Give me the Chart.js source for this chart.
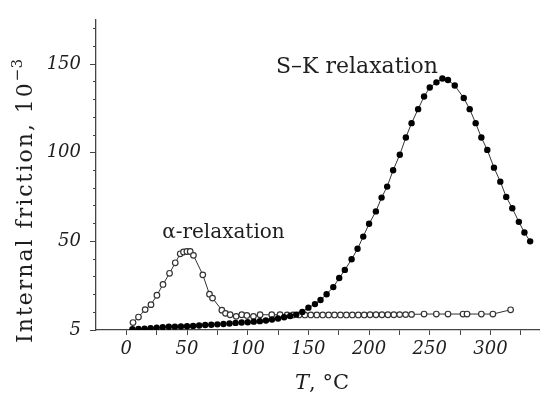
<!DOCTYPE html>
<html>
<head>
<meta charset="utf-8">
<script src="https://cdn.jsdelivr.net/npm/chart.js@4.4.0/dist/chart.umd.min.js"></script>
<style>
  html, body { margin: 0; padding: 0; background: #fff; }
  #wrap { width: 547px; height: 394px; position: relative; }
</style>
</head>
<body>
<div id="wrap"><canvas id="frictionChart"></canvas></div>
<script>
// S-K relaxation (filled dots): temperature, internal friction (10^-3)
const skTemp = [5, 10, 15, 20, 25, 30, 35, 40, 45, 50, 55, 60, 65, 70, 75, 80, 85, 90, 95, 100,
  105, 110, 115, 120, 125, 130, 135, 140, 145, 150, 155.4, 160, 165, 170.5, 175.4, 180, 185.6,
  190.5, 195.2, 200, 205.6, 210.3, 214.9, 219.8, 225.3, 230.3, 235, 240.4, 245.3, 250, 255.5,
  260.4, 265, 270.6, 278, 282.9, 287.8, 292.5, 297.4, 302.9, 308.1, 313, 318, 323.4, 328, 332.7];
const skValues = [0.4, 0.6, 0.8, 1.0, 1.3, 1.6, 1.8, 1.9, 2.0, 2.1, 2.3, 2.5, 2.8, 3.0, 3.2, 3.4, 3.7, 4.0, 4.2, 4.4,
  4.7, 5.0, 5.4, 5.9, 6.5, 7.2, 7.9, 8.7, 10.2, 12.6, 14.6, 16.9, 20.2, 24.2, 29.3, 33.9, 39.9,
  45.8, 52.7, 59.9, 66.9, 74.7, 80.9, 90.1, 98.9, 108.6, 116.7, 124.6, 131.7, 136.8, 139.7,
  141.9, 141.0, 137.9, 130.9, 124.6, 116.7, 108.6, 101.6, 91.6, 83.7, 75.1, 68.7, 61, 55, 50];

// alpha-relaxation (open circles)
const alphaTemp = [5.5, 10, 15.5, 20.3, 25.2, 30.2, 35.6, 40.3, 44.4, 47.1, 49.9, 52.6, 55.3, 63, 68.5, 71,
  78.7, 81.7, 85.5, 90.5, 95.1, 99.3, 104.7, 110.2, 119.8, 126.6, 132.5, 137.4, 142.3, 147.1, 152,
  156.9, 161.8, 166.7, 171.5, 176.4, 181.3, 186.2, 191.1, 196, 200.8, 205.7, 210.6, 215.5, 220.4,
  225.2, 230.1, 235, 245.3, 255.4, 265, 277.4, 280.7, 292.5, 302, 316.6];
const alphaValues = [4.2, 7.3, 11.5, 14.3, 19.6, 25.7, 32, 37.9, 43, 44, 44.3, 44.3, 42.1, 31.1, 20.2, 18,
  11.2, 9.4, 8.6, 7.7, 8.6, 8.2, 7.7, 8.6, 8.6, 8.6, 8.5, 8.5, 8.5, 8.5, 8.5,
  8.5, 8.5, 8.5, 8.5, 8.5, 8.5, 8.5, 8.5, 8.5, 8.6, 8.6, 8.6, 8.6, 8.6,
  8.7, 8.7, 8.8, 9, 9, 9, 9, 9, 9, 9, 11.4];

// ticks
const xTickValues = [0, 25, 50, 75, 100, 125, 150, 175, 200, 225, 250, 275, 300, 325];
const xTickLabels = {0: '0', 50: '50', 100: '100', 150: '150', 200: '200', 250: '250', 300: '300'};
const yTickValues = [0, 10, 20, 30, 40, 50, 60, 70, 80, 90, 100, 110, 120, 130, 140, 150, 160, 170];
const yTickLabels = {0: '5', 50: '50', 100: '100', 150: '150'};

const axisColor = '#444';
const textColor = '#1e1e1e';
const serif = '"DejaVu Serif", "Liberation Serif", serif';

function toPoints(xs, ys) {
  return xs.map((x, i) => ({x: x, y: ys[i]}));
}

// labels drawn on top: peak names and axis titles
const textPlugin = {
  id: 'textLabels',
  afterDraw(chart) {
    const {ctx, scales: {x, y}} = chart;
    ctx.save();
    ctx.fillStyle = textColor;
    ctx.textBaseline = 'middle';
    ctx.textAlign = 'center';

    ctx.font = '22px ' + serif;
    ctx.fillText('S–K relaxation', x.getPixelForValue(190), y.getPixelForValue(148));
    ctx.font = '20px ' + serif;
    ctx.fillText('α-relaxation', x.getPixelForValue(80), y.getPixelForValue(55));

    // x title: italic T
    ctx.textAlign = 'left';
    const fi = 'italic 21px ' + serif, fn = '21px ' + serif;
    ctx.font = fi;
    const wT = ctx.measureText('T').width;
    ctx.font = fn;
    const wRest = ctx.measureText(', °C').width;
    let sx = 322 - (wT + wRest) / 2;
    ctx.font = fi; ctx.fillText('T', sx, 384);
    ctx.font = fn; ctx.fillText(', °C', sx + wT, 384);

    // y title with superscript
    ctx.translate(26, 201);
    ctx.rotate(-Math.PI / 2);
    const main = 'Internal friction, 10';
    ctx.letterSpacing = '2px';
    ctx.font = '22px ' + serif;
    const wMain = ctx.measureText(main).width;
    ctx.letterSpacing = '0px';
    ctx.font = '15px ' + serif;
    const wSup = ctx.measureText('−3').width;
    sx = -(wMain + wSup) / 2;
    ctx.letterSpacing = '2px';
    ctx.font = '22px ' + serif;
    ctx.fillText(main, sx, 0);
    ctx.letterSpacing = '0px';
    ctx.font = '15px ' + serif;
    ctx.fillText('−3', sx + wMain, -8);
    ctx.restore();
  }
};

const ctx = document.getElementById('frictionChart').getContext('2d');

new Chart(ctx, {
  type: 'line',
  data: {
    datasets: [
      {
        label: 'S–K relaxation',
        data: toPoints(skTemp, skValues),
        borderColor: '#333',
        borderWidth: 1,
        pointRadius: 3.2,
        pointBackgroundColor: '#000',
        pointBorderWidth: 0,
        tension: 0,
        fill: false
      },
      {
        label: 'α-relaxation',
        data: toPoints(alphaTemp, alphaValues),
        borderColor: '#333',
        borderWidth: 1,
        pointRadius: 2.8,
        pointBackgroundColor: '#fff',
        pointBorderColor: '#333',
        pointBorderWidth: 1.2,
        tension: 0,
        fill: false
      }
    ]
  },
  options: {
    responsive: true,
    maintainAspectRatio: false,
    animation: false,
    layout: { padding: { top: 11, right: 8, left: 0, bottom: 0 } },
    plugins: {
      legend: { display: false },
      tooltip: { enabled: false }
    },
    scales: {
      x: {
        type: 'linear',
        min: -25,
        max: 340,
        afterFit: (scale) => { scale.height = 64; },
        afterBuildTicks: (scale) => { scale.ticks = xTickValues.map(v => ({value: v})); },
        border: { display: true, color: axisColor, width: 1.3 },
        grid: { drawOnChartArea: false, drawTicks: true, tickLength: 5, tickColor: axisColor, tickWidth: 1 },
        ticks: {
          autoSkip: false,
          maxRotation: 0,
          padding: 4,
          color: textColor,
          font: { family: serif, size: 18, style: 'italic' },
          callback: (v) => xTickLabels[v] || ''
        }
      },
      y: {
        type: 'linear',
        min: 0,
        max: 175,
        afterFit: (scale) => { scale.width = 96; },
        afterBuildTicks: (scale) => { scale.ticks = yTickValues.map(v => ({value: v})); },
        border: { display: true, color: axisColor, width: 1.3 },
        grid: {
          drawOnChartArea: false,
          drawTicks: true,
          tickLength: 6,
          tickColor: axisColor,
          tickWidth: 1,
          // minor ticks: only the inner 3px of the tick is drawn
          tickBorderDash: (c) => (yTickLabels[c.tick && c.tick.value] ? [] : [3, 3]),
          tickBorderDashOffset: (c) => (yTickLabels[c.tick && c.tick.value] ? 0 : 3)
        },
        ticks: {
          autoSkip: false,
          padding: 9,
          color: textColor,
          font: { family: serif, size: 18, style: 'italic' },
          callback: (v) => yTickLabels[v] || ''
        }
      }
    }
  },
  plugins: [textPlugin]
});
</script>
</body>
</html>
